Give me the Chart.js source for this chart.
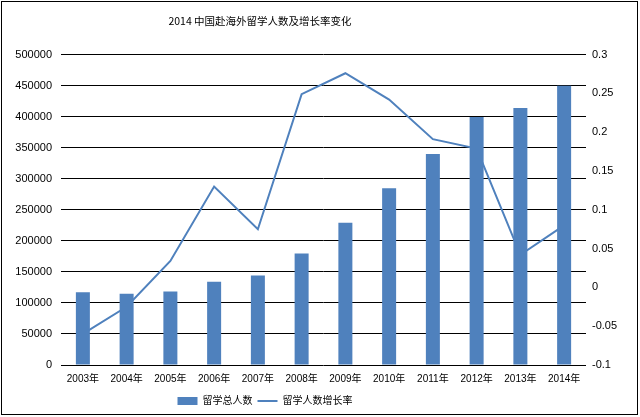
<!DOCTYPE html>
<html>
<head>
<meta charset="utf-8">
<script src="https://cdn.jsdelivr.net/npm/chart.js@4/dist/chart.umd.min.js"></script>
<style>
  html, body { margin: 0; padding: 0; background: #fff; }
  #wrap { width: 640px; height: 417px; position: relative; }
</style>
</head>
<body>
<div id="wrap"><canvas id="myChart" width="640" height="417"></canvas></div>
<script>
// values
const years = ["2003年","2004年","2005年","2006年","2007年","2008年","2009年","2010年","2011年","2012年","2013年","2014年"]
const totalStudents = [117300, 114700, 118500, 134000, 144000, 179800, 229300, 284700, 339700, 399600, 413900, 450000]
const growthRate = [-0.06, -0.025, 0.034, 0.13, 0.075, 0.249, 0.276, 0.242, 0.191, 0.179, 0.042, 0.08]

const blue = "#4F81BD"
const cjk = "'Liberation Sans', 'Noto Sans CJK SC', sans-serif"

// outer frame like the original picture, title + legend nudged left like the original
const framePlugin = {
    id: "frame",
    afterLayout(chart) {
        chart.legend.left -= 55
        chart.legend.right -= 55
        chart.titleBlock.left -= 60
        chart.titleBlock.right -= 60
    },
    afterDraw(chart) {
        const ctx = chart.ctx
        ctx.save()
        ctx.strokeStyle = "#000"
        ctx.lineWidth = 1
        ctx.strokeRect(1.5, 1.5, 636, 413)
        ctx.restore()
    }
}

const dataChart = new Chart("myChart", {
    type: "bar",
    data: {
        labels: years,
        datasets: [
            {
                type: "bar",
                label: "留学总人数",
                data: totalStudents,
                backgroundColor: blue,
                borderWidth: 0,
                barPercentage: 0.32,
                categoryPercentage: 1,
                yAxisID: "y",
                order: 0
            },
            {
                type: "line",
                label: "留学人数增长率",
                data: growthRate,
                borderColor: blue,
                backgroundColor: blue,
                borderWidth: 2,
                pointRadius: 0,
                tension: 0,
                yAxisID: "y1",
                order: 1
            }
        ]
    },
    options: {
        responsive: false,
        animation: false,
        layout: { padding: { left: 0, right: 0, top: 0, bottom: 1 } },
        plugins: {
            title: {
                display: true,
                text: "2014 中国赴海外留学人数及增长率变化",
                color: "#000",
                font: { family: "'Noto Sans CJK SC', sans-serif", size: 10.5, weight: "normal" },
                padding: { top: 15, bottom: 27 }
            },
            legend: {
                position: "bottom",
                labels: {
                    color: "#000",
                    font: { family: cjk, size: 10 },
                    usePointStyle: true,
                    pointStyleWidth: 20,
                    boxHeight: 8,
                    padding: 5,
                    generateLabels(chart) {
                        const items = Chart.defaults.plugins.legend.labels.generateLabels(chart)
                        items[0].pointStyle = "rect"
                        items[1].pointStyle = "line"
                        items[1].lineWidth = 2
                        return items
                    }
                }
            },
            tooltip: { enabled: false }
        },
        scales: {
            x: {
                grid: { display: false, drawTicks: false },
                border: { display: false },
                ticks: { color: "#000", font: { family: cjk, size: 10 }, padding: 8, maxRotation: 0, autoSkip: false },
                afterFit(scale) { scale.height = 26 }
            },
            y: {
                position: "left",
                min: 0,
                max: 500000,
                grid: { color: "#000", drawTicks: false },
                border: { display: false },
                ticks: { stepSize: 50000, color: "#000", font: { family: cjk, size: 11 }, padding: 9,
                    callback: (v) => String(v) },
                afterFit(scale) { scale.width = 61 }
            },
            y1: {
                position: "right",
                min: -0.1,
                max: 0.3,
                grid: { display: false, drawTicks: false },
                border: { display: false },
                ticks: { stepSize: 0.05, color: "#000", font: { family: cjk, size: 11 }, padding: 6,
                    callback: (v) => String(Math.round(v * 100) / 100) },
                afterFit(scale) { scale.width = 54 }
            }
        }
    },
    plugins: [framePlugin]
});
</script>
</body>
</html>
